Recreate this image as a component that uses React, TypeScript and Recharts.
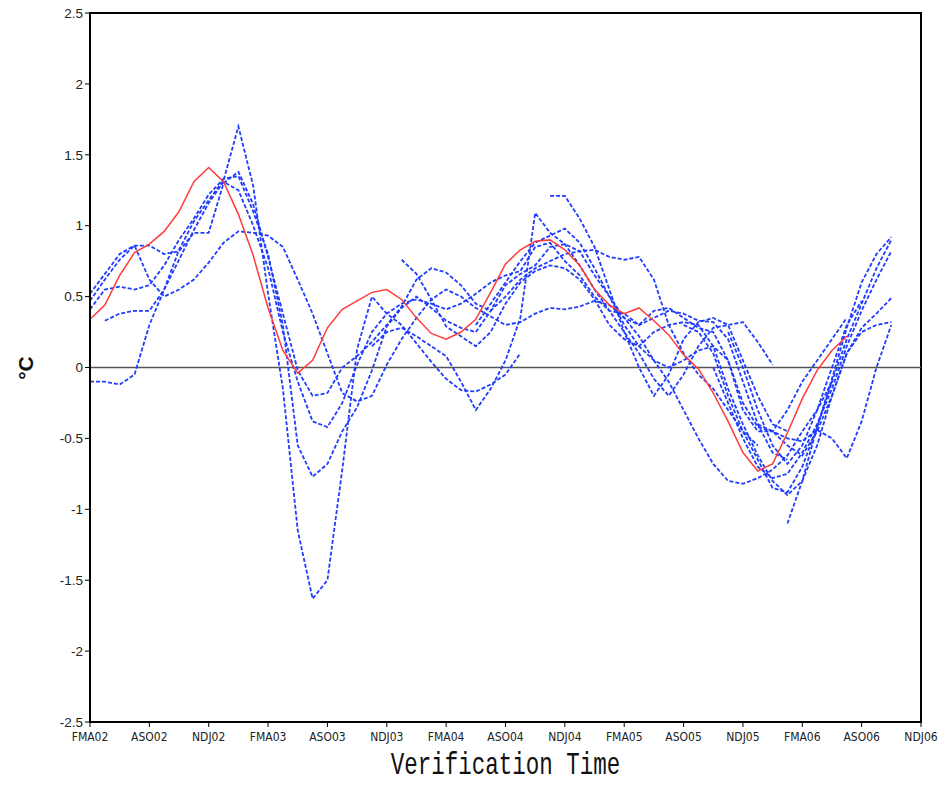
import React from 'react';
import { LineChart, Line, XAxis, YAxis, ReferenceLine, ReferenceArea } from 'recharts';

// Season labels on the time axis, one every four months
const seasonLabels = ['FMA02', 'ASO02', 'NDJ02', 'FMA03', 'ASO03', 'NDJ03', 'FMA04', 'ASO04', 'NDJ04', 'FMA05', 'ASO05', 'NDJ05', 'FMA06', 'ASO06', 'NDJ06'];
const monthsPerLabel = 4;
const yTicks = [-2.5, -2, -1.5, -1, -0.5, 0, 0.5, 1, 1.5, 2, 2.5];

// Observed anomaly (°C), monthly from FMA02
const observed = [0.34, 0.44, 0.65, 0.81, 0.87, 0.96, 1.10, 1.31, 1.41, 1.31, 1.08, 0.79, 0.42, 0.12, -0.04, 0.05, 0.28, 0.41, 0.47, 0.53, 0.55, 0.48, 0.35, 0.24, 0.20, 0.25, 0.34, 0.53, 0.73, 0.83, 0.89, 0.90, 0.83, 0.72, 0.55, 0.44, 0.38, 0.42, 0.33, 0.23, 0.09, -0.01, -0.18, -0.38, -0.60, -0.73, -0.68, -0.46, -0.22, -0.02, 0.12, 0.22];

// Forecast runs (°C); each run begins at the month given in runStarts
const runA = [-0.10, -0.10, -0.12, -0.05, 0.30, 0.55, 0.83, 1.03, 1.18, 1.32, 1.70, 1.28, 0.52, -0.15, -1.15, -1.63, -1.50, -0.72, 0.13, 0.50, 0.38, 0.30, 0.17, 0.04, -0.08, -0.16, -0.17, -0.12, -0.05, 0.10];
const runB = [0.52, 0.66, 0.80, 0.86, 0.86, 0.80, 0.82, 0.95, 0.95, 1.30, 1.38, 1.15, 0.78, 0.38, -0.02, -0.20, -0.18, 0.00, 0.08, 0.18, 0.30, 0.43, 0.62, 0.70, 0.67, 0.58, 0.45, 0.40, 0.50, 0.62, 0.70, 0.75, 0.80, 0.82, 0.83, 0.78, 0.76, 0.78, 0.62, 0.30, 0.10, -0.05, -0.15, -0.30, -0.45, -0.55];
const runC = [0.47, 0.62, 0.76, 0.86, 0.62, 0.50, 0.55, 0.62, 0.74, 0.88, 0.96, 0.95, 0.93, 0.85, 0.62, 0.38, 0.10, -0.18, -0.24, -0.20, 0.02, 0.20, 0.35, 0.48, 0.55, 0.50, 0.42, 0.36, 0.30, 0.32, 0.38, 0.42, 0.41, 0.43, 0.47, 0.44, 0.35, 0.22, 0.05, -0.10, -0.30, -0.50, -0.68, -0.80, -0.82, -0.78, -0.72, -0.62, -0.45, -0.30, -0.10];
const runD = [0.41, 0.55, 0.57, 0.55, 0.58, 0.72, 0.90, 1.05, 1.22, 1.33, 1.35, 1.10, 0.80, 0.30, -0.55, -0.77, -0.68, -0.45, -0.28, -0.02, 0.29, 0.42, 0.50, 0.42, 0.33, 0.28, 0.25, 0.40, 0.58, 0.66, 0.72, 0.85, 0.87, 0.82, 0.65, 0.50, 0.30, 0.15, 0.05, 0.00, 0.05, 0.12, 0.15, 0.05, -0.30, -0.45, -0.45, -0.30, -0.10, 0.05, 0.20, 0.35];
const runE = [0.33, 0.38, 0.40, 0.40, 0.55, 0.76, 0.97, 1.16, 1.31, 1.25, 1.00, 0.70, 0.25, -0.10, -0.38, -0.42, -0.25, 0.02, 0.25, 0.38, 0.45, 0.48, 0.45, 0.41, 0.45, 0.52, 0.60, 0.65, 0.68, 0.85, 0.88, 0.75, 0.65, 0.50, 0.40, 0.38, 0.30, 0.40, 0.42, 0.35, 0.28, 0.25, 0.05, -0.25, -0.42, -0.45, -0.50, -0.52, -0.44, -0.50, -0.64, -0.38, 0.00, 0.30];
const runF = [0.76, 0.66, 0.48, 0.29, 0.22, 0.15, 0.25, 0.45, 0.60, 0.68, 0.72, 0.70, 0.62, 0.48, 0.30, 0.20, 0.15, 0.25, 0.30, 0.32, 0.30, 0.15, -0.15, -0.40, -0.62, -0.80, -0.90, -0.80, -0.55, -0.20, 0.10, 0.25, 0.30, 0.32];
const runG = [0.15, 0.25, 0.28, 0.22, 0.15, 0.08, -0.10, -0.30, -0.15, 0.05, 0.35, 1.09, 0.95, 0.87, 0.72, 0.55, 0.40, 0.25, 0.10, -0.08, -0.20, -0.05, 0.15, 0.28, 0.30, 0.32, 0.18, 0.02];
const runH = [1.21, 1.21, 1.05, 0.85, 0.55, 0.25, 0.00, -0.20, -0.05, 0.20, 0.32, 0.35, 0.30, 0.05, -0.20, -0.40, -0.45];
const runI = [0.30, 0.45, 0.60, 0.75, 0.88, 0.93, 0.98, 0.88, 0.70, 0.50, 0.35, 0.30, 0.35, 0.40, 0.38, 0.33, 0.32, 0.20, -0.10, -0.40, -0.60, -0.65];
const runJ = [-1.10, -0.80, -0.42, -0.08, 0.28, 0.60, 0.80, 0.92];
const runK = [0.30, 0.25, 0.10, -0.20, -0.45, -0.65, -0.85, -0.88, -0.70, -0.42, -0.10, 0.20, 0.45, 0.70, 0.90];
const runL = [0.00, -0.25, -0.50, -0.70, -0.78, -0.75, -0.60, -0.40, -0.15, 0.15, 0.40, 0.62, 0.82];
const runM = [-0.40, -0.45, -0.55, -0.62, -0.45, -0.20, 0.10, 0.28, 0.38, 0.49];
const runN = [0.25, 0.00, -0.30, -0.55, -0.68, -0.55, -0.30, 0.00, 0.30, 0.47];

const runs = [runA, runB, runC, runD, runE, runF, runG, runH, runI, runJ, runK, runL, runM, runN];
const runStarts = [0, 0, 0, 0, 1, 21, 19, 31, 26, 47, 40, 42, 45, 43];

const lastMonth = (seasonLabels.length - 1) * monthsPerLabel;
const monthTicks = seasonLabels.map((_, i) => i * monthsPerLabel);

const rows = Array.from({ length: lastMonth + 1 }, (_, m) => {
  const row: Record<string, number | null> = { m, obs: m < observed.length ? observed[m] : null };
  runs.forEach((vals, r) => {
    const i = m - runStarts[r];
    row['run' + r] = i >= 0 && i < vals.length ? vals[i] : null;
  });
  return row;
});

const fmtY = (v: number) => (v === 0 ? '0' : String(v));

export default function App() {
  return (
    <div style={{ position: 'absolute', left: 0, top: 0, width: 943, height: 787, background: '#fff', fontFamily: 'Liberation Sans, Arial, sans-serif' }}>
      <LineChart width={943} height={787} data={rows} margin={{ top: 13, right: 22, bottom: 35, left: 0 }}>
        <XAxis
          dataKey="m"
          type="number"
          domain={[0, lastMonth]}
          ticks={monthTicks}
          tickFormatter={(v: number) => seasonLabels[v / monthsPerLabel]}
          interval={0}
          height={30}
          axisLine={{ stroke: '#000', strokeWidth: 2 }}
          tickLine={{ stroke: '#000' }}
          tickSize={5}
          tick={{ fontSize: 12, fill: '#222', fontFamily: 'DejaVu Sans Condensed, Liberation Sans Narrow, sans-serif', dy: 3 }}
        />
        <YAxis
          type="number"
          domain={[-2.5, 2.5]}
          ticks={yTicks}
          interval={0}
          width={90}
          tickFormatter={fmtY}
          axisLine={{ stroke: '#000', strokeWidth: 2 }}
          tickLine={{ stroke: '#000' }}
          tickSize={5}
          tick={{ fontSize: 13.5, fill: '#222', fontFamily: 'Liberation Sans, Arial, sans-serif' }}
        />
        <ReferenceArea x1={0} x2={lastMonth} y1={-2.5} y2={2.5} fill="none" stroke="#000" strokeWidth={2} ifOverflow="visible" />
        <ReferenceLine y={0} stroke="#555" strokeWidth={1.5} />
        {runs.map((_, r) => (
          <Line
            key={r}
            dataKey={'run' + r}
            type="linear"
            stroke="#1f3cff"
            strokeWidth={1.8}
            strokeDasharray="4 2"
            dot={false}
            activeDot={false}
            connectNulls={false}
            isAnimationActive={false}
          />
        ))}
        <Line dataKey="obs" type="linear" stroke="#ff3b3b" strokeWidth={1.5} dot={false} activeDot={false} isAnimationActive={false} />
      </LineChart>
      <div style={{ position: 'absolute', left: 0, width: 943, top: 753, textAlign: 'center', paddingLeft: 68, boxSizing: 'border-box' }}>
        <span style={{ display: 'inline-block', fontFamily: 'Liberation Mono, DejaVu Sans Mono, monospace', fontSize: 22.5, color: '#111', transform: 'scaleY(1.4)' }}>
          Verification Time
        </span>
      </div>
      <div style={{ position: 'absolute', left: 26, top: 368, transform: 'translate(-50%, -50%) rotate(-90deg)', fontFamily: 'Liberation Sans, Arial, sans-serif', fontWeight: 'bold', fontSize: 21, color: '#111', whiteSpace: 'nowrap' }}>
        °C
      </div>
    </div>
  );
}
